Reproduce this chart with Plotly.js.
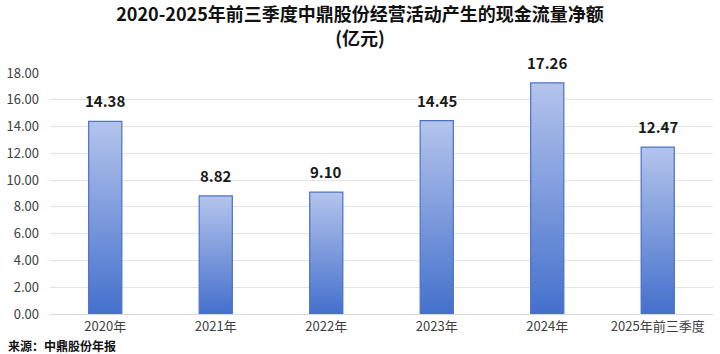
<!DOCTYPE html>
<html>
<head>
<meta charset="utf-8">
<script src="https://cdn.plot.ly/plotly-3.0.1.min.js"></script>
<style>html,body{margin:0;padding:0;background:#fff;}#chart{width:720px;height:354px;}</style>
</head>
<body>
<div id="chart"></div>
<script>
const categories = ["2020年", "2021年", "2022年", "2023年", "2024年", "2025年前三季度"];
const values = [14.38, 8.82, 9.10, 14.45, 17.26, 12.47];
const yTicks = [0, 2, 4, 6, 8, 10, 12, 14, 16, 18];
const titleText = "2020-2025年前三季度中鼎股份经营活动产生的现金流量净额<br>(亿元)";
const sourceText = "来源：中鼎股份年报";

const FONT = '"Noto Sans CJK SC", "Noto Sans", sans-serif';

const trace = {
  type: 'bar',
  x: categories,
  y: values,
  width: 0.3,
  marker: { color: '#7f9bdb', line: { color: '#4a72c8', width: 1.2 } },
  hoverinfo: 'none'
};

const annotations = categories.map((c, i) => ({
  x: c, y: values[i], xref: 'x', yref: 'y',
  text: values[i].toFixed(2), showarrow: false,
  yanchor: 'bottom', yshift: 8,
  font: { family: FONT, size: 15, color: '#1a1a1a', weight: 700 }
}));
annotations.push({
  xref: 'paper', yref: 'paper', x: 0, y: 0, xshift: -44, yshift: -31,
  xanchor: 'left', yanchor: 'middle', showarrow: false,
  text: '<b>' + sourceText + '</b>',
  font: { family: FONT, size: 12, color: '#111' }
});

const layout = {
  width: 720, height: 354,
  margin: { l: 50, r: 7, t: 73, b: 40 },
  paper_bgcolor: '#fff', plot_bgcolor: '#fff',
  title: {
    text: '<b>' + titleText + '</b>',
    x: 0.5, xref: 'container', xanchor: 'center',
    y: 0.94, yref: 'container', yanchor: 'top',
    font: { family: FONT, size: 18, color: '#111' }
  },
  xaxis: {
    type: 'category', showgrid: false, zeroline: false,
    showline: true, linecolor: '#d9d9d9', linewidth: 1,
    ticks: '', tickfont: { family: FONT, size: 13, color: '#404040' }
  },
  yaxis: {
    range: [0, 18], tickvals: yTicks, ticktext: yTicks.map(v => v.toFixed(2)),
    showgrid: true, gridcolor: '#e3e3e3', gridwidth: 1, zeroline: false,
    showline: false, ticks: '', ticklabelstandoff: 10,
    tickfont: { family: FONT, size: 13, color: '#404040' }
  },
  bargap: 0.7,
  showlegend: false,
  annotations: annotations
};

Plotly.newPlot('chart', [trace], layout, { staticPlot: true }).then(gd => {
  const svg = gd.querySelector('svg.main-svg');
  const ns = 'http://www.w3.org/2000/svg';
  let defs = svg.querySelector('defs');
  if (!defs) { defs = document.createElementNS(ns, 'defs'); svg.insertBefore(defs, svg.firstChild); }
  const g = document.createElementNS(ns, 'linearGradient');
  g.setAttribute('id', 'barGrad');
  g.setAttribute('x1', '0'); g.setAttribute('y1', '0');
  g.setAttribute('x2', '0'); g.setAttribute('y2', '1');
  [['0', '#b4c4ec'], ['1', '#4470cc']].forEach(([o, c]) => {
    const s = document.createElementNS(ns, 'stop');
    s.setAttribute('offset', o); s.setAttribute('stop-color', c);
    g.appendChild(s);
  });
  defs.appendChild(g);
  gd.querySelectorAll('.bars .point path').forEach(p => {
    p.style.fill = 'url(#barGrad)';
    p.style.fillOpacity = '1';
  });
});
</script>
</body>
</html>
